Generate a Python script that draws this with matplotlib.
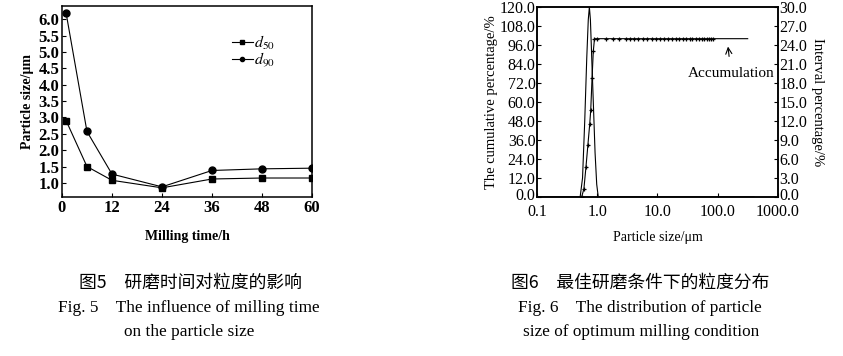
import matplotlib
matplotlib.use("Agg")
import matplotlib.pyplot as plt
import matplotlib.transforms as mtransforms
from matplotlib.ticker import FixedLocator, FixedFormatter, NullLocator

plt.rcParams["font.family"] = ["Liberation Serif", "Noto Sans CJK SC"]
plt.rcParams["mathtext.fontset"] = "stix"

# Fig. 5 data
milling_time = [1, 6, 12, 24, 36, 48, 60]
d50 = [2.90, 1.50, 1.08, 0.85, 1.12, 1.15, 1.15]
d90 = [6.18, 2.57, 1.27, 0.88, 1.38, 1.43, 1.45]

# Fig. 6 data
cum_size = [0.55, 0.6, 0.65, 0.7, 0.75, 0.78, 0.82, 0.86, 0.9,
            1.0, 1.38, 1.8, 2.3, 3.0, 3.5, 4.1, 4.8, 5.8, 6.8, 8.0, 9.5,
            11, 13, 15, 17.5, 20, 23, 26, 30, 34, 38, 43, 48, 54, 60, 66,
            72, 78, 84, 314]
cum_pct = [0, 5, 19, 33, 46, 55, 75, 92, 100,
           100, 100, 100, 100, 100, 100, 100, 100, 100, 100, 100, 100,
           100, 100, 100, 100, 100, 100, 100, 100, 100, 100, 100, 100, 100, 100, 100,
           100, 100, 100, 100]
int_size = [0.1, 0.52, 0.57, 0.62, 0.67, 0.71, 0.74, 0.77, 0.81, 0.86, 0.92, 0.98, 1.04, 400]
int_pct = [0, 0, 3, 12, 22, 28, 30, 28, 22, 15, 7, 2, 0, 0]

fig = plt.figure(figsize=(8.43, 3.56), dpi=100)

# ---- Fig. 5 ----
ax1 = fig.add_axes([0.0735, 0.4466, 0.2966, 0.5365])
ax1.plot(milling_time, d50, color="black", linewidth=0.8, marker="s", markersize=4.5,
         label=r"$d_{50}$")
ax1.plot(milling_time, d90, color="black", linewidth=0.8, marker="o", markersize=5,
         label=r"$d_{90}$")
ax1.set_xlim(0, 60)
ax1.set_ylim(0.57, 6.4)
ax1.set_xticks([0, 12, 24, 36, 48, 60])
ax1.set_yticks([1.0, 1.5, 2.0, 2.5, 3.0, 3.5, 4.0, 4.5, 5.0, 5.5, 6.0])
ax1.set_yticklabels([f"{v:.1f}" for v in ax1.get_yticks()])
ax1.tick_params(direction="in", length=3, width=0.8, labelsize=12, pad=2)
for lab in ax1.get_xticklabels() + ax1.get_yticklabels():
    lab.set_fontweight("bold")
ax1.set_ylabel("Particle size/μm", fontsize=10, fontweight="bold", labelpad=3)
ax1.set_xlabel("Milling time/h", fontsize=10, fontweight="bold", labelpad=10)
for sp in ax1.spines.values():
    sp.set_linewidth(1.1)
leg = ax1.legend(loc="upper right", bbox_to_anchor=(0.91, 0.93), frameon=False,
                 fontsize=11.5, handlelength=1.3, handletextpad=0.1, labelspacing=-0.1,
                 markerscale=0.6)

# ---- Fig. 6 ----
ax2 = fig.add_axes([0.637, 0.4466, 0.2859, 0.5337])
ax3 = ax2.twinx()
ax2.plot(cum_size, cum_pct, color="black", linewidth=0.8, marker="+", markersize=3,
         markeredgewidth=0.9, markevery=list(range(len(cum_size) - 1)))
ax3.plot(int_size, int_pct, color="black", linewidth=0.8)
ax2.set_xscale("log")
ax2.set_xlim(0.1, 1000)
ax2.set_ylim(0, 120)
ax3.set_ylim(0, 30)
ax2.xaxis.set_major_locator(FixedLocator([0.1, 1, 10, 100, 1000]))
ax2.xaxis.set_major_formatter(FixedFormatter(["0.1", "1.0", "10.0", "100.0", "1000.0"]))
ax2.xaxis.set_minor_locator(NullLocator())
ax2.set_yticks([0, 12, 24, 36, 48, 60, 72, 84, 96, 108, 120])
ax2.set_yticklabels([f"{v:.1f}" for v in ax2.get_yticks()])
ax3.set_yticks([0, 3, 6, 9, 12, 15, 18, 21, 24, 27, 30])
ax3.set_yticklabels([f"{v:.1f}" for v in ax3.get_yticks()])
ax2.tick_params(axis="y", direction="in", length=3, width=0.8, labelsize=11.5, pad=1)
ax2.tick_params(axis="x", direction="in", length=3, width=0.8, labelsize=11.5, pad=5)
ax3.tick_params(direction="in", length=3, width=0.8, labelsize=11.5, pad=1)

# lift the two bottom "0.0" labels a little so they clear the x tick labels
lift = mtransforms.ScaledTranslation(0, 2.5 / 72, fig.dpi_scale_trans)
for ax in (ax2, ax3):
    lab = ax.get_yticklabels()[0]
    lab.set_transform(lab.get_transform() + lift)

ax2.set_ylabel("The cumulative percentage/%", fontsize=10.5, labelpad=1)
ax3.set_ylabel("Interval percentage/%", fontsize=10.5, rotation=-90, labelpad=12)
ax2.set_xlabel("Particle size/μm", fontsize=10, labelpad=8)
for ax in (ax2, ax3):
    for sp in ax.spines.values():
        sp.set_linewidth(1.1)
ax2.annotate("Accumulation", xy=(148, 95), xytext=(166, 77.7), fontsize=11,
             ha="center", va="center",
             arrowprops=dict(arrowstyle="->", color="black", linewidth=0.8,
                             shrinkA=6, shrinkB=0))

# ---- captions ----
cjk = ["Noto Sans CJK SC", "Liberation Serif"]
fig.text(190 / 843, 1 - 283 / 356, "图5\u2003研磨时间对粒度的影响", family=cjk,
         ha="center", va="center", fontsize=12.8)
fig.text(189 / 843, 1 - 308 / 356, "Fig. 5\u2003The influence of milling time",
         ha="center", va="center", fontsize=12.4)
fig.text(189 / 843, 1 - 332 / 356, "on the particle size",
         ha="center", va="center", fontsize=12.4)
fig.text(640 / 843, 1 - 283 / 356, "图6\u2003最佳研磨条件下的粒度分布", family=cjk,
         ha="center", va="center", fontsize=12.8)
fig.text(640 / 843, 1 - 308 / 356, "Fig. 6\u2003The distribution of particle",
         ha="center", va="center", fontsize=12.4)
fig.text(641 / 843, 1 - 332 / 356, "size of optimum milling condition",
         ha="center", va="center", fontsize=12.4)

fig.savefig("out.png", dpi=100)
